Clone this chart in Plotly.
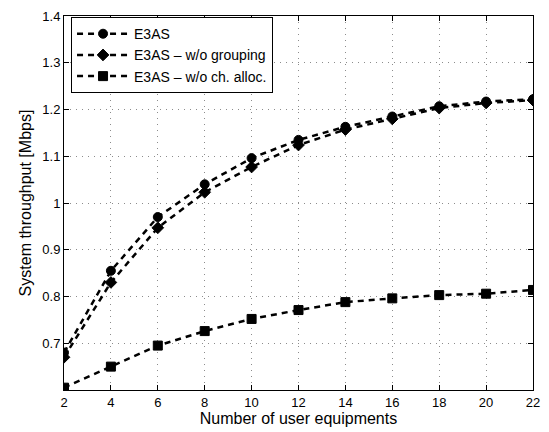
import plotly.graph_objects as go

ues = [2, 4, 6, 8, 10, 12, 14, 16, 18, 20, 22]
e3as = [0.68, 0.855, 0.97, 1.04, 1.096, 1.135, 1.163, 1.185, 1.207, 1.217, 1.222]
e3as_no_grouping = [0.67, 0.83, 0.947, 1.023, 1.077, 1.124, 1.157, 1.18, 1.203, 1.214, 1.22]
e3as_no_challoc = [0.605, 0.65, 0.695, 0.726, 0.752, 0.771, 0.788, 0.796, 0.803, 0.806, 0.814]

names = ["E3AS", "E3AS \u2013 w/o grouping", "E3AS \u2013 w/o ch. alloc."]
symbols = ["circle", "diamond", "square"]
series = [e3as, e3as_no_grouping, e3as_no_challoc]

fig = go.Figure()
for name, sym, ys in zip(names, symbols, series):
    fig.add_trace(go.Scatter(
        x=ues, y=ys, name=name, mode="lines+markers",
        line=dict(color="black", width=2.5, dash="6px,5px"),
        marker=dict(symbol=sym, size=9, color="black",
                    line=dict(color="black", width=1)),
    ))

axis_common = dict(
    showline=True, linecolor="black", linewidth=1, mirror="ticks",
    ticks="inside", ticklen=5, tickcolor="black",
    showgrid=True, gridcolor="rgba(0,0,0,0.45)", griddash="1px,5px", gridwidth=1,
    zeroline=False, tickfont=dict(family="Liberation Sans, Arial", size=13, color="black"),
)

fig.update_xaxes(range=[2, 22], tickvals=list(range(2, 23, 2)),
                 title=dict(text="Number of user equipments",
                            font=dict(family="Liberation Sans, Arial", size=16, color="black"),
                            standoff=1),
                 **axis_common)
fig.update_yaxes(range=[0.6, 1.4], tickvals=[0.7, 0.8, 0.9, 1, 1.1, 1.2, 1.3, 1.4],
                 ticktext=["0.7", "0.8", "0.9", "1", "1.1", "1.2", "1.3", "1.4"],
                 title=dict(text="System throughput [Mbps]",
                            font=dict(family="Liberation Sans, Arial", size=16, color="black"),
                            standoff=6),
                 **axis_common)

fig.update_layout(
    width=549, height=432,
    margin=dict(l=64, r=9, t=13, b=42),
    paper_bgcolor="white", plot_bgcolor="white",
    legend=dict(x=0.015, y=0.997, xanchor="left", yanchor="top",
                bgcolor="white", bordercolor="black", borderwidth=1,
                font=dict(family="Liberation Sans, Arial", size=14, color="black"),
                tracegroupgap=0, itemwidth=52),
    showlegend=True,
)

fig.write_html("out.html")
